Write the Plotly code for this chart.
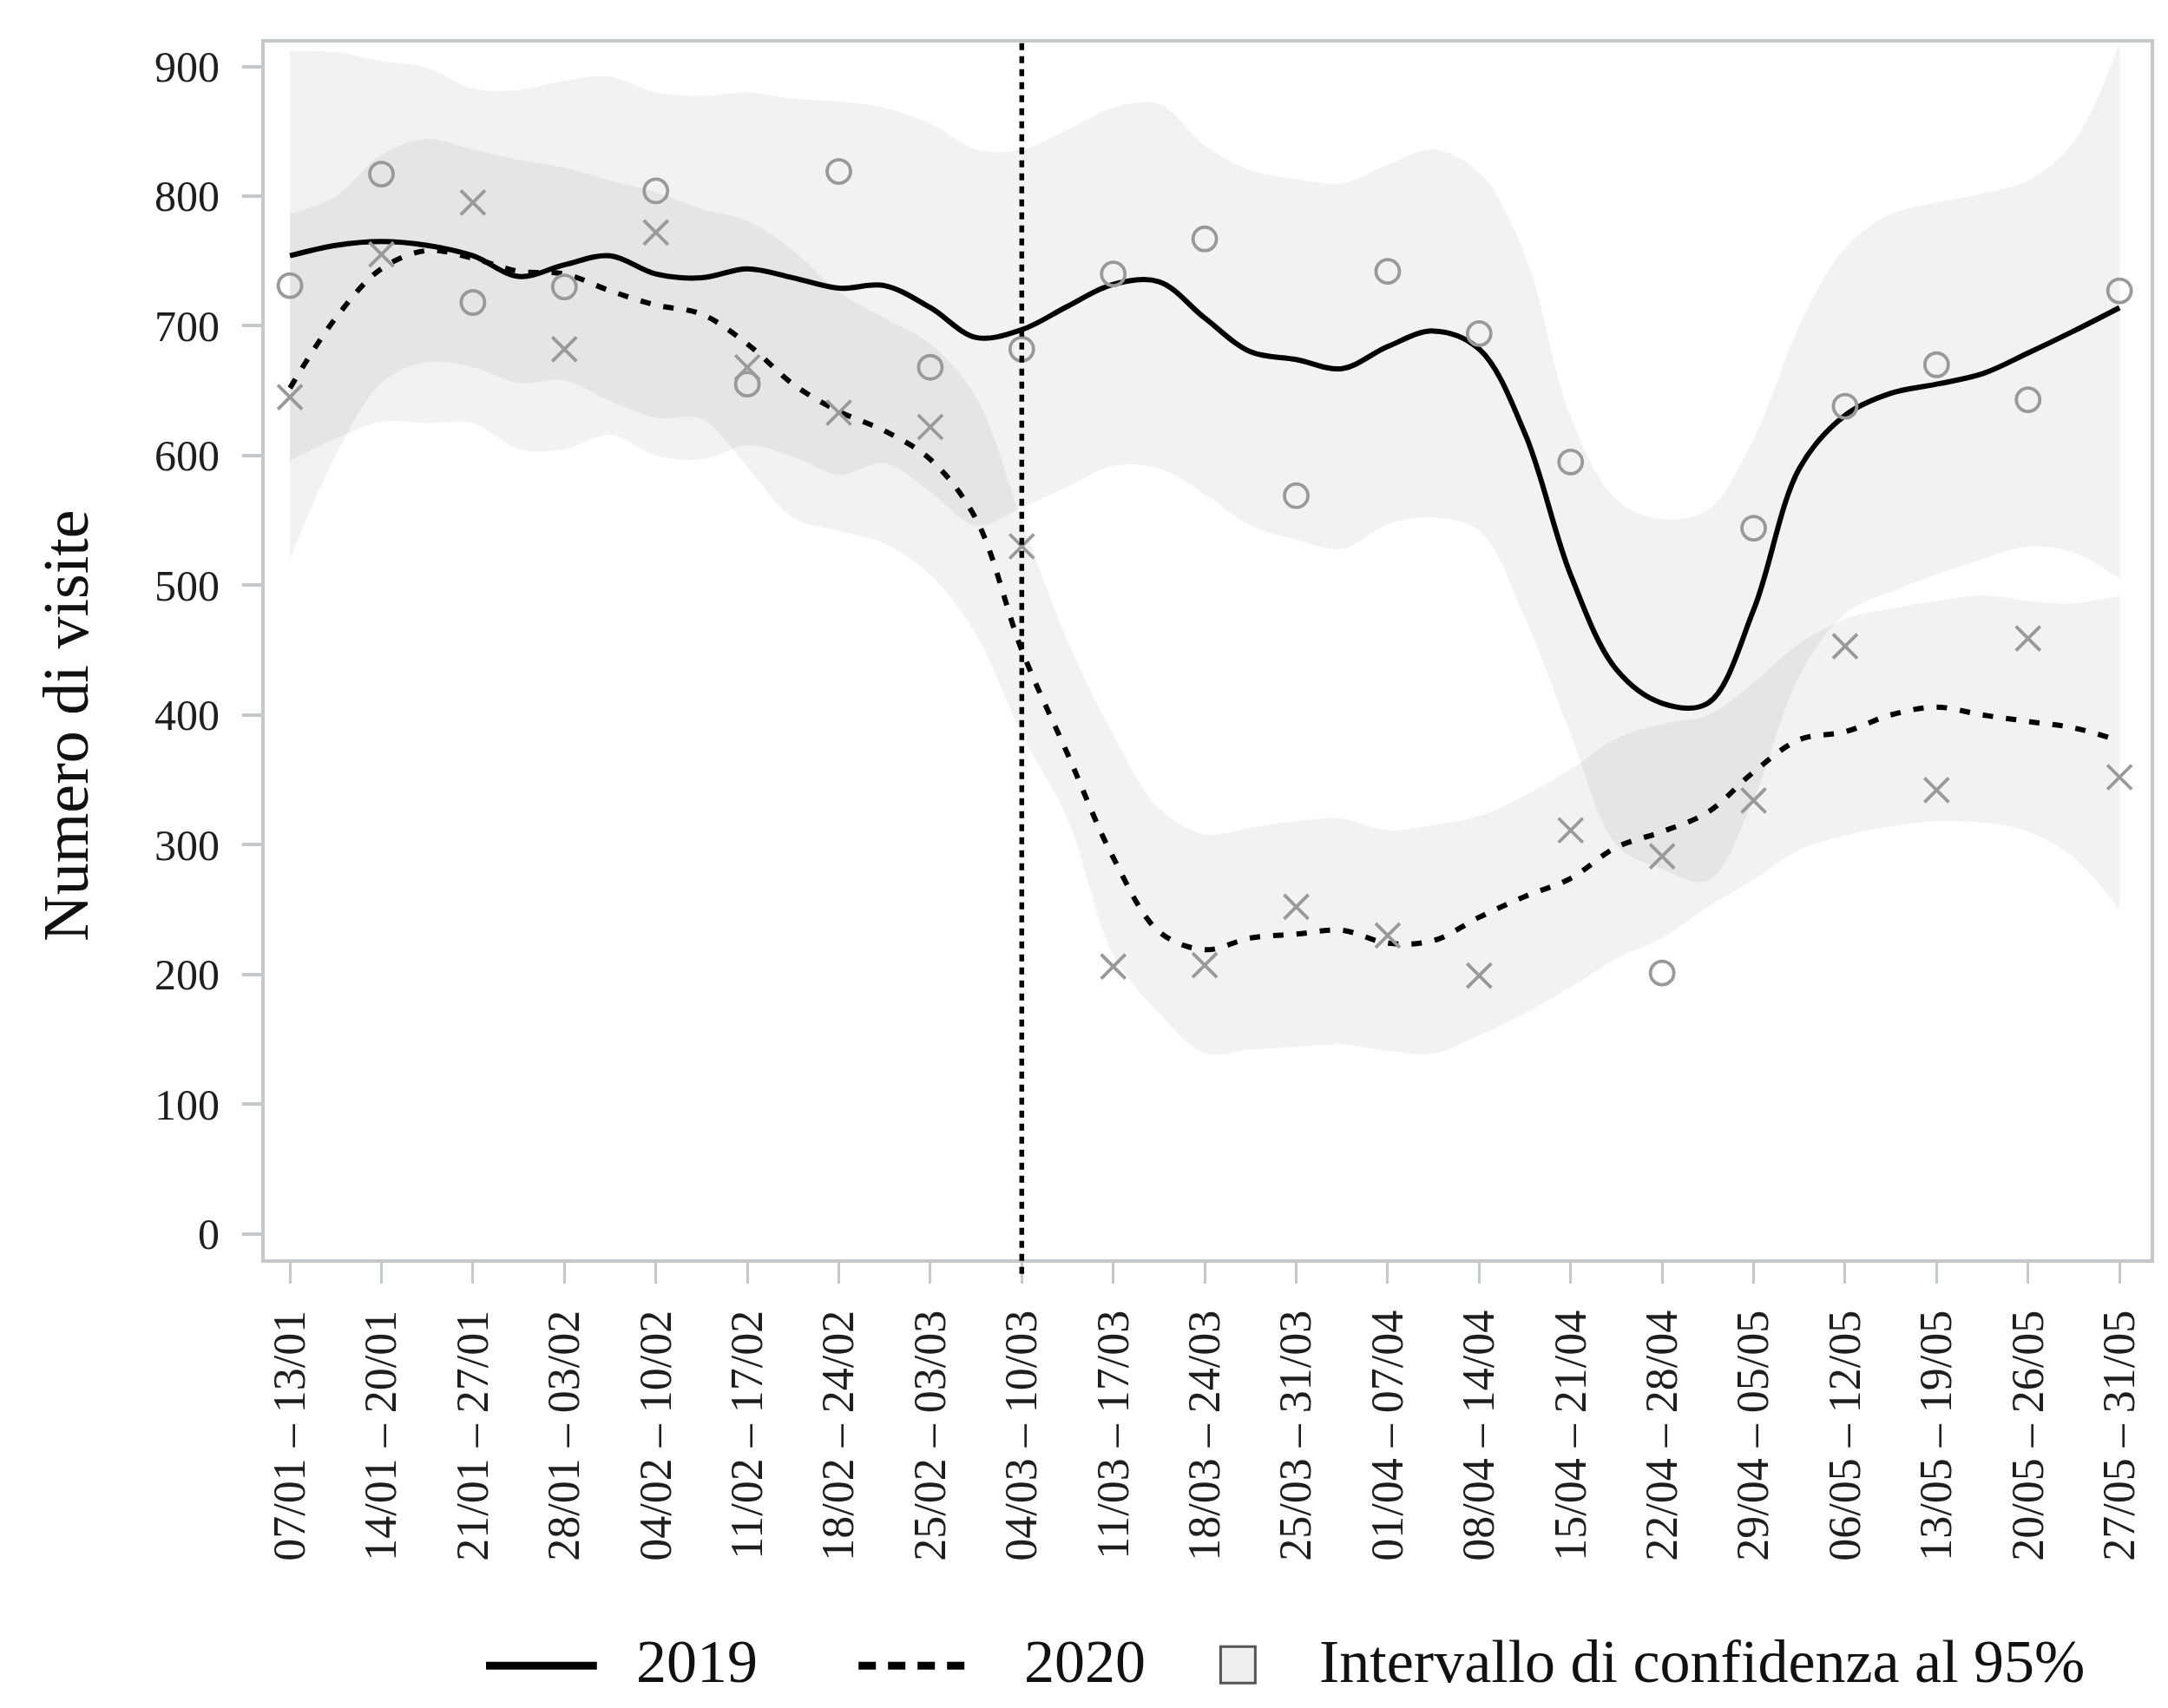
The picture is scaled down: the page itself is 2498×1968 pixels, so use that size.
import plotly.graph_objects as go

# ---------------- data ----------------
categories = [
    "07/01 – 13/01", "14/01 – 20/01", "21/01 – 27/01", "28/01 – 03/02",
    "04/02 – 10/02", "11/02 – 17/02", "18/02 – 24/02", "25/02 – 03/03",
    "04/03 – 10/03", "11/03 – 17/03", "18/03 – 24/03", "25/03 – 31/03",
    "01/04 – 07/04", "08/04 – 14/04", "15/04 – 21/04", "22/04 – 28/04",
    "29/04 – 05/05", "06/05 – 12/05", "13/05 – 19/05", "20/05 – 26/05",
    "27/05 – 31/05",
]
week_pos = list(range(len(categories)))

visits_2019 = [731, 817, 718, 730, 804, 655, 819, 668, 682, 740, 767,
               569, 742, 694, 595, 201, 544, 638, 670, 643, 727]
visits_2020 = [645, 755, 795, 682, 772, 668, 633, 622, 530, 206, 207,
               252, 230, 199, 311, 291, 334, 453, 342, 459, 352]

# smoothed curves and 95% CI, read at half-week steps
fit_pos = [k / 2 for k in range(41)]
fit_2019 = [754, 762, 765, 762, 754, 738, 747, 754, 740, 737, 744, 737, 729, 731,
            714, 691, 697, 715, 732, 734, 706, 680, 674, 667, 684, 696, 682, 617,
            508, 435, 409, 409, 481, 590, 631, 648, 655, 663, 679, 696, 714]
upper_2019 = [912, 911, 904, 899, 883, 882, 889, 892, 880, 877, 880, 875, 873, 868,
              856, 836, 836, 851, 868, 871, 839, 820, 813, 810, 824, 836, 818, 755,
              630, 566, 551, 558, 613, 700, 760, 786, 795, 802, 812, 842, 918]
lower_2019 = [596, 613, 626, 625, 625, 605, 605, 616, 600, 597, 608, 599, 585, 594,
              572, 546, 560, 576, 592, 590, 570, 546, 535, 528, 547, 552, 542, 475,
              385, 300, 281, 272, 335, 430, 478, 495, 508, 520, 530, 525, 505]
fit_2020 = [652, 706, 744, 758, 752, 742, 740, 727, 716, 709, 686, 655, 634, 619,
            597, 551, 450, 370, 290, 233, 219, 228, 231, 234, 224, 226, 244, 260,
            274, 298, 310, 325, 356, 381, 387, 400, 406, 400, 395, 390, 380]
upper_2020 = [786, 800, 832, 844, 836, 828, 822, 812, 803, 790, 781, 758, 726, 706,
              686, 645, 550, 457, 385, 328, 308, 313, 318, 320, 311, 315, 322, 338,
              358, 382, 393, 400, 425, 455, 474, 482, 488, 492, 488, 486, 492]
lower_2020 = [520, 600, 656, 672, 668, 656, 658, 642, 629, 628, 591, 552, 542, 532,
              508, 462, 385, 320, 215, 170, 139, 142, 144, 146, 141, 139, 153, 170,
              190, 212, 228, 252, 273, 296, 307, 314, 318, 317, 310, 290, 250]

y_ticks = [0, 100, 200, 300, 400, 500, 600, 700, 800, 900]
lockdown_week = 8

legend_labels = ["2019", "2020", "Intervallo di confidenza al 95%"]
y_title = "Numero di visite"

# ---------------- figure ----------------
FONT = "Liberation Serif, Times New Roman, serif"
AXIS = "#c5c8cb"
OFF = 8                      # page body margin
W, H = 2498 - 2 * OFF, 1968 - 2 * OFF
L = 304.5 - OFF
T = 49 - OFF
R = W - (2481.6 - OFF)
B = H - (1451.5 - OFF)
PW, PH = W - L - R, H - T - B


def px_x(px):   # page pixel -> paper
    return (px - OFF - L) / PW


def px_y(py):
    return (H - B - (py - OFF)) / PH


fig = go.Figure()

for up, lo in ((upper_2019, lower_2019), (upper_2020, lower_2020)):
    fig.add_trace(go.Scatter(x=fit_pos, y=up, mode="lines",
                             line=dict(width=0, shape="spline"),
                             hoverinfo="skip", showlegend=False))
    fig.add_trace(go.Scatter(x=fit_pos, y=lo, mode="lines",
                             line=dict(width=0, shape="spline"),
                             fill="tonexty", fillcolor="rgba(0,0,0,0.05)",
                             hoverinfo="skip", showlegend=False))

fig.add_trace(go.Scatter(x=fit_pos, y=fit_2019, mode="lines", name="2019",
                         line=dict(color="black", width=6, shape="spline"),
                         showlegend=False))
fig.add_trace(go.Scatter(x=fit_pos, y=fit_2020, mode="lines", name="2020",
                         line=dict(color="black", width=6, shape="spline",
                                   dash="12px,15px"),
                         showlegend=False))

fig.add_trace(go.Scatter(x=week_pos, y=visits_2019, mode="markers",
                         marker=dict(symbol="circle-open", size=27, color="#999999",
                                     line=dict(width=3.8, color="#999999")),
                         showlegend=False))
fig.add_trace(go.Scatter(x=week_pos, y=visits_2020, mode="markers",
                         marker=dict(symbol="x-thin-open", size=28, color="#999999",
                                     line=dict(width=3.8, color="#999999")),
                         showlegend=False))

# vertical dotted line (lockdown)
fig.add_shape(type="line", xref="x", yref="paper", x0=lockdown_week, x1=lockdown_week,
              y0=-0.012, y1=1, line=dict(color="black", width=5.5, dash="8px,7px"))

# manual legend
ly = px_y(1920)
fig.add_shape(type="line", xref="paper", yref="paper", x0=px_x(560), x1=px_x(688),
              y0=ly, y1=ly, line=dict(color="black", width=9))
fig.add_shape(type="line", xref="paper", yref="paper", x0=px_x(990), x1=px_x(1124),
              y0=ly, y1=ly, line=dict(color="black", width=9, dash="20px,14px"))
fig.add_shape(type="rect", xref="paper", yref="paper", x0=px_x(1408), x1=px_x(1448),
              y0=px_y(1940), y1=px_y(1898), fillcolor="#efefef",
              line=dict(color="#555555", width=3))
for txt, xpx in zip(legend_labels, (731, 1179, 1520)):
    fig.add_annotation(text=txt, xref="paper", yref="paper", x=px_x(xpx), y=px_y(1915),
                       xanchor="left", yanchor="middle", showarrow=False,
                       font=dict(family=FONT, size=70, color="#111111"))

fig.add_annotation(text=y_title, xref="paper", yref="paper", x=px_x(75), y=px_y(836),
                   xanchor="center", yanchor="middle", textangle=-90, showarrow=False,
                   font=dict(family=FONT, size=74, color="#111111"))

fig.update_xaxes(range=[-0.276, 20.34], tickmode="array", tickvals=week_pos,
                 ticktext=categories, tickangle=-90, showgrid=False, zeroline=False,
                 showline=True, linecolor=AXIS, linewidth=4, mirror=True,
                 ticks="outside", ticklen=24, tickwidth=3, tickcolor=AXIS,
                 ticklabelstandoff=10,
                 tickfont=dict(family=FONT, size=52, color="#1e1e1e"))
fig.update_yaxes(range=[-19.7, 918.4], tickmode="array", tickvals=y_ticks,
                 showgrid=False, zeroline=False,
                 showline=True, linecolor=AXIS, linewidth=4, mirror=True,
                 ticks="outside", ticklen=22, tickwidth=4, tickcolor=AXIS,
                 ticklabelstandoff=16,
                 tickfont=dict(family=FONT, size=50, color="#1e1e1e"))

fig.update_layout(width=W, height=H, margin=dict(l=L, r=R, t=T, b=B, pad=0),
                  plot_bgcolor="white", paper_bgcolor="white", showlegend=False,
                  font=dict(family=FONT))

fig.write_html("out.html")
